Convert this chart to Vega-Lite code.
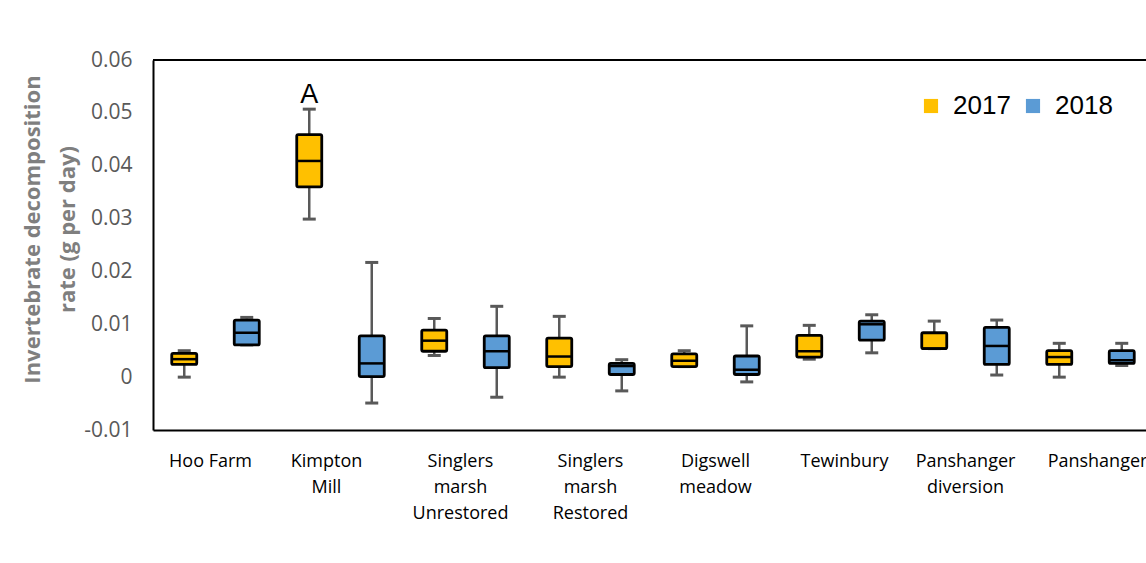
{
  "$schema": "https://vega.github.io/schema/vega-lite/v6.json",
  "width": 993,
  "height": 370,
  "autosize": {"type": "none"},
  "padding": {"left": 153, "top": 60, "right": 0, "bottom": 133},
  "background": "white",
  "config": {"view": {"stroke": null}},
  "data": {"values": [
    {"site": "Hoo Farm", "year": "2017", "min": 0.0, "q1": 0.0024, "median": 0.0034, "q3": 0.0045, "max": 0.0050},
    {"site": "Hoo Farm", "year": "2018", "min": 0.0061, "q1": 0.0061, "median": 0.0084, "q3": 0.0108, "max": 0.0113},
    {"site": "Kimpton Mill", "year": "2017", "min": 0.0299, "q1": 0.0360, "median": 0.0409, "q3": 0.0459, "max": 0.0507},
    {"site": "Kimpton Mill", "year": "2018", "min": -0.0049, "q1": 0.0001, "median": 0.0026, "q3": 0.0078, "max": 0.0217},
    {"site": "Singlers marsh Unrestored", "year": "2017", "min": 0.0041, "q1": 0.0049, "median": 0.0069, "q3": 0.0089, "max": 0.0111},
    {"site": "Singlers marsh Unrestored", "year": "2018", "min": -0.0038, "q1": 0.0018, "median": 0.0049, "q3": 0.0078, "max": 0.0134},
    {"site": "Singlers marsh Restored", "year": "2017", "min": 0.0, "q1": 0.0020, "median": 0.0039, "q3": 0.0074, "max": 0.0115},
    {"site": "Singlers marsh Restored", "year": "2018", "min": -0.0026, "q1": 0.0005, "median": 0.0021, "q3": 0.0026, "max": 0.0033},
    {"site": "Digswell meadow", "year": "2017", "min": 0.0020, "q1": 0.0020, "median": 0.0031, "q3": 0.0044, "max": 0.0050},
    {"site": "Digswell meadow", "year": "2018", "min": -0.0009, "q1": 0.0005, "median": 0.0014, "q3": 0.0040, "max": 0.0097},
    {"site": "Tewinbury", "year": "2017", "min": 0.0034, "q1": 0.0038, "median": 0.0049, "q3": 0.0079, "max": 0.0098},
    {"site": "Tewinbury", "year": "2018", "min": 0.0046, "q1": 0.0070, "median": 0.0100, "q3": 0.0106, "max": 0.0118},
    {"site": "Panshanger diversion", "year": "2017", "min": 0.0054, "q1": 0.0054, "median": 0.0054, "q3": 0.0084, "max": 0.0106},
    {"site": "Panshanger diversion", "year": "2018", "min": 0.0004, "q1": 0.0024, "median": 0.0059, "q3": 0.0094, "max": 0.0108},
    {"site": "Panshanger", "year": "2017", "min": 0.0, "q1": 0.0024, "median": 0.0038, "q3": 0.0050, "max": 0.0064},
    {"site": "Panshanger", "year": "2018", "min": 0.0022, "q1": 0.0026, "median": 0.0032, "q3": 0.0050, "max": 0.0064}
  ]},
  "encoding": {
    "x": {
      "field": "site", "type": "nominal", "sort": null,
      "scale": {"domain": ["Hoo Farm", "Kimpton Mill", "Singlers marsh Unrestored", "Singlers marsh Restored", "Digswell meadow", "Tewinbury", "Panshanger diversion", "Panshanger"], "range": [0, 1000], "paddingInner": 0, "paddingOuter": 0},
      "axis": {
        "title": null, "labelAngle": 0, "ticks": false, "domain": true, "domainColor": "black", "domainWidth": 2,
        "labelFont": "Open Sans", "labelFontSize": 18, "labelColor": "black", "labelPadding": 22,
        "labelBaseline": "top", "labelLineHeight": 26,
        "labelOffset": {"condition": [
          {"test": "datum.value == 'Kimpton Mill'", "value": -14},
          {"test": "datum.value == 'Hoo Farm' || datum.value == 'Singlers marsh Unrestored'", "value": -5},
          {"test": "datum.value == 'Tewinbury'", "value": 4},
          {"test": "datum.value == 'Panshanger'", "value": 7}
        ], "value": 0},
        "labelExpr": "datum.value == 'Hoo Farm' ? datum.value : split(datum.value, ' ')"
      }
    },
    "xOffset": {"field": "year", "type": "nominal", "scale": {"domain": ["2017", "2018"], "paddingInner": 0, "paddingOuter": 0}}
  },
  "layer": [
    {
      "mark": {"type": "rule", "color": "#595959", "strokeWidth": 2.5},
      "encoding": {
        "y": {
          "field": "min", "type": "quantitative",
          "scale": {"domain": [-0.01, 0.06], "nice": false, "zero": false},
          "axis": {
            "title": ["Invertebrate decomposition", "rate (g per day)"],
            "titleFont": "Open Sans", "titleFontSize": 22, "titleFontWeight": "bold", "titleColor": "#7f7f7f",
            "titleAngle": -90, "titleAlign": "center", "titleBaseline": "middle", "titleLineHeight": 35,
            "titleX": -121, "titleY": 169,
            "values": [-0.01, 0, 0.01, 0.02, 0.03, 0.04, 0.05, 0.06],
            "labelExpr": "toString(round(datum.value * 100) / 100)",
            "grid": false, "ticks": false, "domain": true, "domainColor": "black", "domainWidth": 2,
            "labelFont": "Open Sans", "labelFontSize": 21, "labelColor": "#595959", "labelPadding": 21
          }
        },
        "y2": {"field": "max"}
      }
    },
    {
      "mark": {"type": "tick", "color": "#595959", "thickness": 3, "size": 13, "opacity": 1},
      "encoding": {"y": {"field": "min", "type": "quantitative"}}
    },
    {
      "mark": {"type": "tick", "color": "#595959", "thickness": 3, "size": 13, "opacity": 1},
      "encoding": {"y": {"field": "max", "type": "quantitative"}}
    },
    {
      "mark": {"type": "bar", "width": 25, "stroke": "black", "strokeWidth": 2.8, "cornerRadius": 1.5, "opacity": 1},
      "encoding": {
        "y": {"field": "q1", "type": "quantitative"},
        "y2": {"field": "q3"},
        "color": {
          "field": "year", "type": "nominal",
          "scale": {"domain": ["2017", "2018"], "range": ["#FFC000", "#5B9BD5"]},
          "legend": {
            "title": null, "orient": "none", "legendX": 765, "legendY": 33, "direction": "horizontal",
            "symbolType": "square", "symbolSize": 200, "symbolStrokeWidth": 0, "symbolOpacity": 1,
            "labelFont": "Liberation Sans", "labelFontSize": 26, "labelColor": "black", "labelOffset": 9,
            "columnPadding": 9
          }
        }
      }
    },
    {
      "mark": {"type": "tick", "color": "black", "thickness": 2.5, "size": 25, "opacity": 1},
      "encoding": {"y": {"field": "median", "type": "quantitative"}}
    },
    {
      "data": {"values": [{"site": "Kimpton Mill", "year": "2017", "label": "A", "pos": 0.0534}]},
      "mark": {"type": "text", "font": "Liberation Sans", "fontSize": 27, "color": "black", "baseline": "middle", "align": "center"},
      "encoding": {
        "y": {"field": "pos", "type": "quantitative"},
        "text": {"field": "label"}
      }
    },
    {
      "mark": {"type": "rule", "color": "black", "strokeWidth": 2},
      "encoding": {"y": {"datum": 0.06}, "x": {"value": 0}, "x2": {"value": 993}, "xOffset": null}
    }
  ]
}
